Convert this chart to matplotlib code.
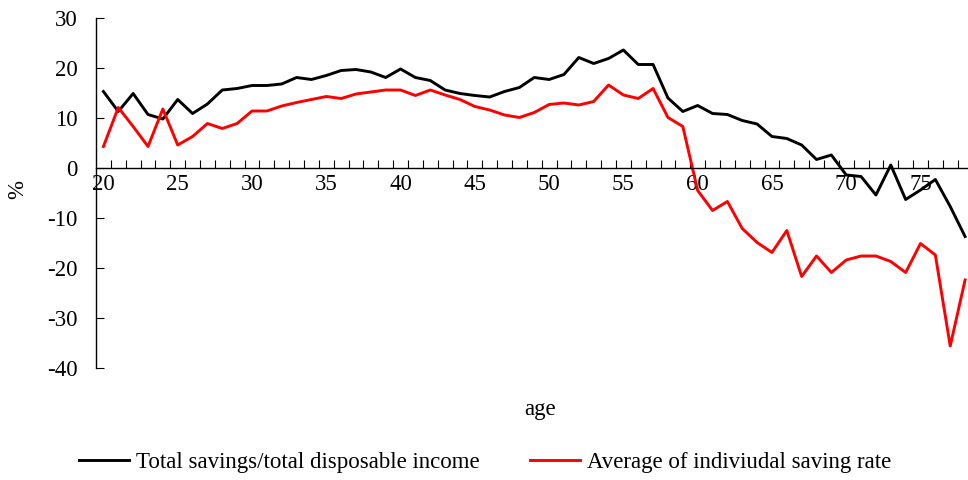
import matplotlib.pyplot as plt
from matplotlib.ticker import MultipleLocator, FixedLocator

plt.rcParams['font.family'] = ['Liberation Serif', 'DejaVu Serif']
plt.rcParams['axes.unicode_minus'] = False

ages = list(range(20, 79))
total_rate = [15.3, 11.3, 14.9, 10.7, 9.8, 13.7, 10.9, 12.8, 15.6, 15.9,
              16.5, 16.5, 16.8, 18.1, 17.7, 18.5, 19.5, 19.7, 19.2, 18.1,
              19.8, 18.1, 17.5, 15.6, 14.9, 14.5, 14.2, 15.3, 16.1, 18.1,
              17.7, 18.7, 22.1, 20.9, 21.9, 23.6, 20.7, 20.7, 14.0, 11.3,
              12.5, 10.9, 10.7, 9.5, 8.8, 6.3, 5.9, 4.6, 1.7, 2.6,
              -1.4, -1.7, -5.4, 0.6, -6.3, -4.4, -2.3, -7.7, -13.7]
indiv_rate = [4.3, 12.1, 8.3, 4.3, 11.8, 4.6, 6.3, 8.9, 7.9, 8.9,
              11.4, 11.4, 12.4, 13.1, 13.7, 14.3, 13.9, 14.8, 15.2, 15.6,
              15.6, 14.5, 15.6, 14.6, 13.7, 12.3, 11.6, 10.6, 10.1, 11.1,
              12.7, 13.0, 12.6, 13.3, 16.6, 14.6, 13.9, 15.9, 10.1, 8.3,
              -4.5, -8.5, -6.7, -12.1, -14.9, -16.9, -12.5, -21.7, -17.6, -20.9,
              -18.4, -17.6, -17.6, -18.7, -20.9, -15.1, -17.4, -35.6, -22.4]
labels = ['Total savings/total disposable income', 'Average of indiviudal saving rate']
label_ages = [20, 25, 30, 35, 40, 45, 50, 55, 60, 65, 70, 75]

fs = 16.5

fig = plt.figure(figsize=(9.68, 4.8), dpi=100)
ax = fig.add_axes([96 / 968, 112 / 480, 876.5 / 968, 350 / 480])

ax.plot(ages, total_rate, color='black', lw=2.1, label=labels[0])
ax.plot(ages, indiv_rate, color='#ff0000', lw=2.1, label=labels[1])

ax.set_xlim(19.5, 78.5)
ax.set_ylim(-40, 30)

ax.spines['top'].set_visible(False)
ax.spines['right'].set_visible(False)
ax.spines['bottom'].set_position(('data', 0))
for s in ('left', 'bottom'):
    ax.spines[s].set_linewidth(1.0)

# category boundaries as unlabeled ticks, labels every 5 years
ax.xaxis.set_major_locator(FixedLocator([a + 0.5 for a in ages]))
ax.xaxis.set_major_formatter(plt.NullFormatter())
ax.xaxis.set_minor_locator(FixedLocator(label_ages))
ax.xaxis.set_minor_formatter(plt.FuncFormatter(lambda v, p: f'{int(v)}'))
ax.tick_params(axis='x', which='major', direction='in', length=6, width=0.8)
ax.tick_params(axis='x', which='minor', length=0, pad=4, labelsize=fs)

ax.yaxis.set_major_locator(MultipleLocator(10))
ax.tick_params(axis='y', direction='in', length=6, width=0.8, pad=13, labelsize=fs)

fig.text(18 / 968, 1 - 190 / 480, '%', rotation=90, ha='center', va='center', fontsize=fs)
fig.text(540 / 968, 1 - 410 / 480, 'age', ha='center', va='center', fontsize=fs)

fig.legend(loc='center', bbox_to_anchor=(485 / 968, 1 - 462 / 480), ncol=2,
           frameon=False, fontsize=fs, handlelength=2.2, handletextpad=0.3,
           columnspacing=2.2)

fig.savefig('out.png', dpi=100)
